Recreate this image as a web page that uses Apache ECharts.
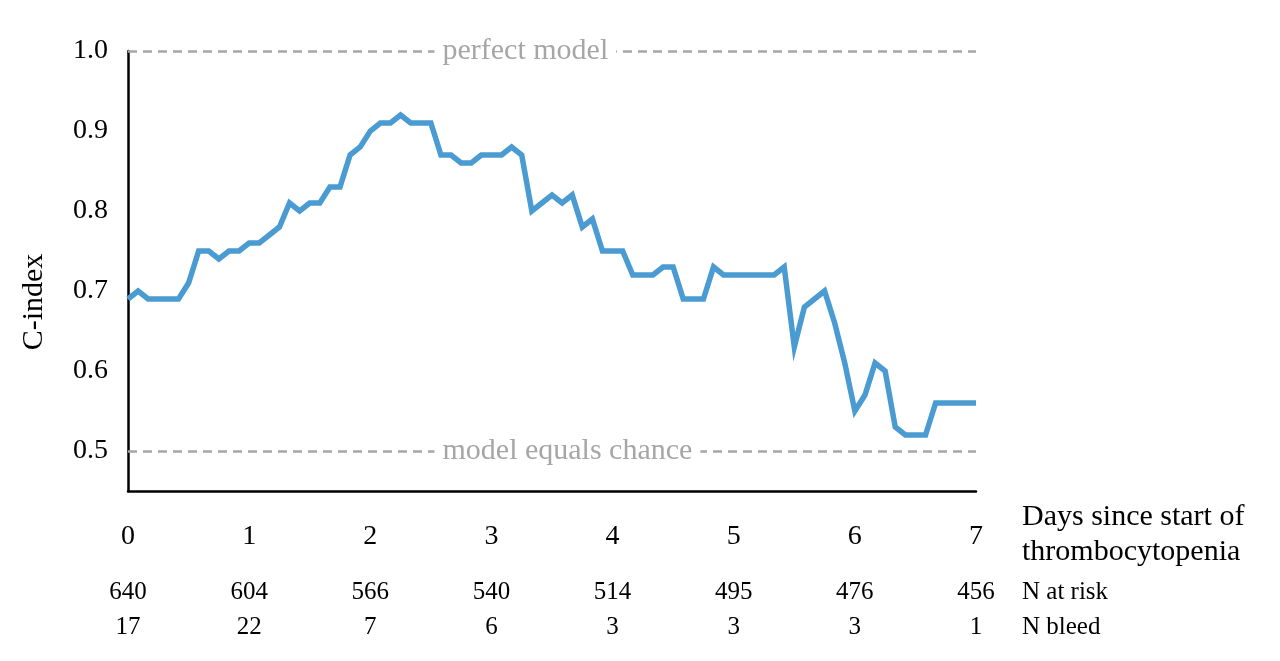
<!DOCTYPE html>
<html>
<head>
<meta charset="utf-8">
<script src="https://cdn.jsdelivr.net/npm/echarts@6/dist/echarts.min.js"></script>
<style>
  html, body { margin: 0; padding: 0; background: #fff; }
  #chart { width: 1280px; height: 661px; }
</style>
</head>
<body>
<div id="chart"></div>
<script>
// C-index evaluated every 2 hours from day 0 to day 7
const stepHours = 2;
const cIndex = [
  0.69, 0.70, 0.69, 0.69, 0.69, 0.69, 0.71, 0.75, 0.75, 0.74,
  0.75, 0.75, 0.76, 0.76, 0.77, 0.78, 0.81, 0.80, 0.81, 0.81,
  0.83, 0.83, 0.87, 0.88, 0.90, 0.91, 0.91, 0.92, 0.91, 0.91,
  0.91, 0.87, 0.87, 0.86, 0.86, 0.87, 0.87, 0.87, 0.88, 0.87,
  0.80, 0.81, 0.82, 0.81, 0.82, 0.78, 0.79, 0.75, 0.75, 0.75,
  0.72, 0.72, 0.72, 0.73, 0.73, 0.69, 0.69, 0.69, 0.73, 0.72,
  0.72, 0.72, 0.72, 0.72, 0.72, 0.73, 0.63, 0.68, 0.69, 0.70,
  0.66, 0.61, 0.55, 0.57, 0.61, 0.60, 0.53, 0.52, 0.52, 0.52,
  0.56, 0.56, 0.56, 0.56, 0.56
];
const dayTicks = [0, 1, 2, 3, 4, 5, 6, 7];
const nAtRisk = [640, 604, 566, 540, 514, 495, 476, 456];
const nBleed = [17, 22, 7, 6, 3, 3, 3, 1];
const refValues = [1.0, 0.5];
const refLabels = ['perfect model', 'model equals chance'];
const refLabelDay = 2.53;

const FONT = '"Liberation Serif", "DejaVu Serif", serif';
const points = cIndex.map((v, i) => [i * stepHours / 24, v]);

const chart = echarts.init(document.getElementById('chart'), null, { renderer: 'canvas' });

function tableAxis(values, offset, name) {
  return {
    type: 'value', gridIndex: 0, position: 'bottom', offset: offset,
    min: 0, max: 7, interval: 1,
    axisLine: { show: false }, axisTick: { show: false }, splitLine: { show: false },
    axisLabel: {
      margin: 0, verticalAlign: 'middle', fontFamily: FONT, fontSize: 25, color: '#000',
      formatter: v => { const k = dayTicks.indexOf(Math.round(v)); return k >= 0 ? String(values[k]) : ''; }
    },
    name: name, nameLocation: 'end', nameGap: 46,
    nameTextStyle: { fontFamily: FONT, fontSize: 25, color: '#000', align: 'left', verticalAlign: 'middle' }
  };
}

chart.setOption({
  animation: false,
  backgroundColor: '#fff',
  grid: { left: 128, right: 304, top: 51, bottom: 170, containLabel: false },
  xAxis: [
    {
      type: 'value', min: 0, max: 7, interval: 1,
      axisLine: { show: true, lineStyle: { color: '#000', width: 2.5 } },
      axisTick: { show: false }, splitLine: { show: false },
      axisLabel: { margin: 32, fontFamily: FONT, fontSize: 28, color: '#000',
        formatter: v => String(dayTicks[dayTicks.indexOf(Math.round(v))]) }
    },
    tableAxis(nAtRisk, 101, 'N at risk'),
    tableAxis(nBleed, 136, 'N bleed')
  ],
  yAxis: {
    type: 'value', min: 0.45, max: 1.0, interval: 0.05,
    axisLine: { show: true, lineStyle: { color: '#000', width: 2.5 } },
    axisTick: { show: false }, splitLine: { show: false },
    axisLabel: {
      margin: 20, fontFamily: FONT, fontSize: 28, color: '#000',
      formatter: v => Math.abs(v * 10 - Math.round(v * 10)) < 1e-6 ? v.toFixed(1) : ''
    }
  },
  graphic: [
    {
      type: 'text', left: 1022, top: 500,
      style: { text: 'Days since start of\nthrombocytopenia', font: '30px ' + FONT, fill: '#000', lineHeight: 35 }
    },
    {
      type: 'text', x: 34, y: 302, rotation: Math.PI / 2,
      style: { text: 'C-index', font: '30px ' + FONT, fill: '#000', align: 'center', verticalAlign: 'middle' }
    }
  ],
  series: [
    {
      type: 'line', data: points, showSymbol: false, symbol: 'none',
      lineStyle: { color: '#4a9bd2', width: 5.5, join: 'miter' },
      z: 3,
      markLine: {
        silent: true, symbol: ['none', 'none'],
        lineStyle: { color: '#a6a6a6', width: 2.5, type: [9, 6] },
        label: { show: false },
        data: refValues.map(v => ({ yAxis: v }))
      }
    },
    {
      type: 'line', data: [], z: 4,
      markPoint: {
        silent: true, symbol: 'circle', symbolSize: 0,
        label: {
          show: true, position: 'right', distance: 0,
          fontFamily: FONT, fontSize: 30, color: '#a6a6a6',
          backgroundColor: '#fff', padding: [2, 8, 2, 8],
          formatter: p => p.name
        },
        data: refValues.map((v, i) => ({ name: refLabels[i], coord: [refLabelDay, v] }))
      }
    }
  ]
});
</script>
</body>
</html>
